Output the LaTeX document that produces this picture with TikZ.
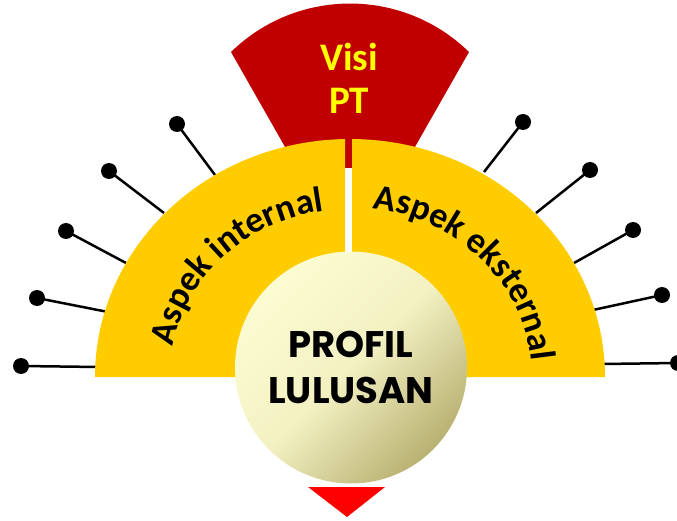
\documentclass[tikz,border=0pt]{standalone}
\usepackage{fontspec}
\setmainfont{Carlito}
\newfontfamily\profilfont{Poppins}
\usetikzlibrary{calc,decorations.text}

\definecolor{visired}{HTML}{C00000}
\definecolor{aspekyellow}{HTML}{FFCC00}
\definecolor{visitext}{HTML}{FFFF00}
\definecolor{profillight}{HTML}{FCFCD2}
\definecolor{profilmid}{HTML}{F3F1C2}
\definecolor{profildark}{HTML}{B9B172}
\definecolor{arrowred}{HTML}{FF0000}

\newcommand\aspekfont{\fontsize{36}{40}\selectfont\bfseries}

\begin{document}
\begin{tikzpicture}[x=1pt, y=1pt,
    dot/.style={circle, fill=black, inner sep=0pt, minimum size=16pt},
    pin/.style={line width=2.5pt, black},
    wing/.style={fill=aspekyellow},
    visi/.style={text=visitext, align=center, font=\fontsize{39}{43}\selectfont\bfseries},
    profil/.style={circle, minimum size=232pt, inner sep=0pt, align=center,
        top color=profillight, bottom color=profildark, middle color=profilmid, shading angle=45,
        font=\profilfont\bfseries\fontsize{37}{46}\selectfont},
    aspek/.style={decorate, decoration={text along path, text align=center, text={|\aspekfont|#1}}}
]
\useasboundingbox (0,0) rectangle (677,520);
\coordinate (C) at (350,143);

% Visi PT fan
\fill[visired] (297,352) -- (231,468) arc[start angle=134.3, end angle=45.7, radius=170.4] -- (403,352) -- cycle;

% pins
\foreach \n/\dx/\dy/\ex/\ey in {1/177/396/215/345, 2/109/349/164/307, 3/66/289/126/257, 4/37/222/108/208, 5/21/154/99/153,
    6/523/398/484/348, 7/590/350/536/307, 8/633/290/574/257, 9/662/225/593/210, 10/678/157/602/156}{
  \node[dot] (dot\n) at (\dx,\dy) {};
  \coordinate (end\n) at (\ex,\ey);
  \draw[pin] (dot\n.center) -- (end\n);
}

% Aspek wings
\fill[wing] (95,143) arc[start angle=180, end angle=91.1, x radius=255, y radius=238] -- (345,143) -- cycle;
\fill[wing] (605,143) arc[start angle=0, end angle=89.5, x radius=255, y radius=238] -- (352,143) -- cycle;

\path[aspek={Aspek internal}] ($(C)+(173:180 and 168)$) arc[start angle=173, end angle=95, x radius=180, y radius=168];
\path[aspek={Aspek eksternal}] ($(C)+(84:182 and 170)$) arc[start angle=84, end angle=4, x radius=182, y radius=170];

% center
\node[profil] (profil) at (351,152.5) {PROFIL\\LULUSAN};
\node[visi] (visi) at (349,442) {Visi\\PT};

% arrow
\fill[arrowred] (308,33) -- (385,33) -- (347,3) -- cycle;
\end{tikzpicture}
\end{document}
